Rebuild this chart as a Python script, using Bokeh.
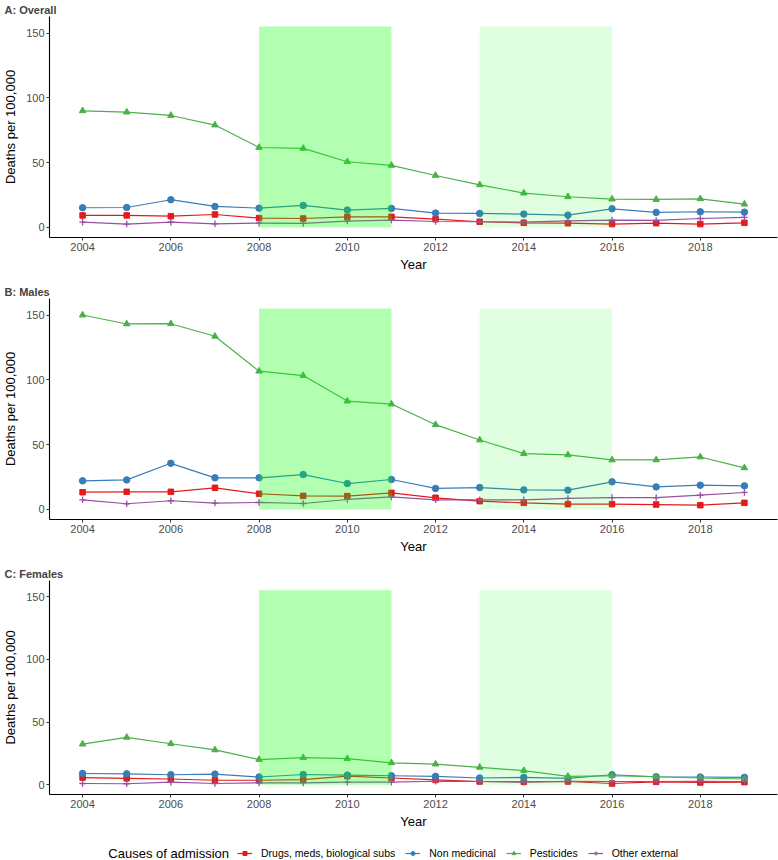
from bokeh.plotting import figure
from bokeh.models import Range1d, FixedTicker, Legend, LegendItem, ColumnDataSource, Label
from bokeh.layouts import column
from bokeh.embed import file_html
from bokeh.resources import INLINE

# ---------------- data ----------------
years = list(range(2004, 2020))
series_names = ["Drugs, meds, biological subs", "Non medicinal", "Pesticides", "Other external"]
series_colors = ["#E41A1C", "#377EB8", "#4DAF4A", "#984EA3"]
series_markers = ["square", "circle", "triangle", "cross"]

overall_drugs = [9.3, 9.3, 8.7, 10.0, 7.2, 6.9, 8.2, 8.2, 6.4, 4.4, 3.6, 3.3, 2.6, 3.3, 2.6, 3.6]
overall_nonmed = [15.2, 15.4, 21.4, 16.2, 14.9, 17.0, 13.4, 14.7, 11.1, 10.8, 10.3, 9.5, 14.4, 11.6, 12.1, 11.8]
overall_pest = [90.0, 89.0, 86.4, 79.0, 61.7, 61.0, 50.7, 47.9, 40.1, 32.9, 26.5, 23.7, 21.9, 21.6, 22.1, 18.0]
overall_other = [4.1, 2.6, 4.1, 2.8, 3.3, 3.1, 4.9, 5.7, 4.6, 4.4, 4.1, 5.1, 5.7, 5.4, 6.9, 7.7]

males_drugs = [13.3, 13.6, 13.6, 16.7, 12.1, 10.5, 10.3, 12.8, 9.0, 6.4, 5.1, 4.1, 4.1, 3.8, 3.3, 5.1]
males_nonmed = [22.1, 22.8, 35.6, 24.4, 24.4, 26.9, 20.0, 23.1, 16.2, 16.9, 15.1, 14.9, 21.3, 17.4, 18.7, 18.2]
males_pest = [150.0, 143.1, 143.3, 133.6, 106.7, 103.3, 83.6, 81.3, 65.4, 53.6, 43.1, 42.1, 38.2, 38.2, 40.5, 32.1]
males_other = [7.4, 4.4, 6.7, 4.9, 5.4, 4.6, 7.7, 9.7, 7.4, 7.4, 7.4, 8.5, 9.2, 9.2, 11.0, 13.1]

females_drugs = [5.7, 5.1, 4.6, 3.6, 3.6, 4.1, 6.9, 5.4, 3.9, 2.6, 2.3, 2.6, 1.0, 2.3, 1.8, 2.1]
females_nonmed = [9.0, 8.7, 8.0, 8.5, 6.2, 8.2, 7.7, 7.2, 6.7, 5.4, 5.9, 5.1, 8.0, 6.4, 6.2, 5.9]
females_pest = [32.4, 37.8, 32.7, 27.8, 20.1, 21.6, 20.8, 17.5, 16.5, 13.9, 11.3, 6.7, 7.2, 6.4, 5.4, 4.6]
females_other = [1.0, 0.8, 2.1, 1.0, 1.5, 1.5, 2.1, 2.1, 2.8, 2.6, 2.1, 2.8, 2.6, 2.6, 2.8, 2.6]

panel_titles = ["A: Overall", "B: Males", "C: Females"]
x_ticks = [2004, 2006, 2008, 2010, 2012, 2014, 2016, 2018]
y_ticks = [0, 50, 100, 150]
shade_start = [2008, 2013]
shade_end = [2011, 2016]
shade_bottom = [0, 0]
shade_top = [155, 155]
shade_alpha = [0.3, 0.12]
legend_title = "Causes of admission"
x_label = "Year"
y_label = "Deaths per 100,000"

FONT = "Liberation Sans"
marker_sizes = {"square": 5.5, "circle": 6.5, "triangle": 6.5, "cross": 6.5}


def add_series(p, src, c, m, scale=1.0):
    r1 = p.line("x", "y", source=src, line_color=c, line_width=1.2)
    r2 = p.scatter("x", "y", source=src, marker=m, size=marker_sizes[m] * scale,
                   fill_color=c, line_color=c, line_width=1.3 if m == "cross" else 1)
    return r1, r2


def make_panel(title, data, height, bottom):
    p = figure(width=778, height=height,
               x_range=Range1d(2003.25, 2019.75), y_range=Range1d(-7.75, 162.75),
               output_backend="svg", toolbar_location=None,
               min_border_left=47, min_border_right=1, min_border_top=15,
               min_border_bottom=bottom)
    p.title.text = title
    p.title.text_font = FONT
    p.title.text_font_size = "11px"
    p.title.text_font_style = "bold"
    p.title.align = "left"
    p.title.offset = -45
    p.title.standoff = 2
    for vals, c, m in zip(data, series_colors, series_markers):
        add_series(p, ColumnDataSource(dict(x=years, y=vals)), c, m)
    p.quad(left=shade_start, right=shade_end, bottom=shade_bottom, top=shade_top,
           fill_color="#00FF00", fill_alpha=shade_alpha, line_color=None)
    p.xgrid.visible = False
    p.ygrid.visible = False
    p.outline_line_color = None
    p.xaxis.ticker = FixedTicker(ticks=x_ticks)
    p.yaxis.ticker = FixedTicker(ticks=y_ticks)
    p.xaxis.axis_label = x_label
    p.yaxis.axis_label = y_label
    for ax in (p.xaxis[0], p.yaxis[0]):
        ax.axis_label_text_font = FONT
        ax.axis_label_text_font_size = "13px"
        ax.axis_label_text_font_style = "normal"
        ax.axis_label_text_color = "black"
        ax.major_label_text_font = FONT
        ax.major_label_text_font_size = "11px"
        ax.major_label_text_color = "#4D4D4D"
        ax.minor_tick_line_color = None
        ax.major_tick_in = 0
        ax.major_tick_out = 3
        ax.major_tick_line_color = "#333333"
        ax.axis_line_color = "black"
        ax.axis_line_width = 1.1
        ax.major_label_standoff = 2
    p.xaxis.axis_label_standoff = 3
    p.yaxis.axis_label_standoff = 5
    return p


pA = make_panel(panel_titles[0], [overall_drugs, overall_nonmed, overall_pest, overall_other], 282, 45)
pB = make_panel(panel_titles[1], [males_drugs, males_nonmed, males_pest, males_other], 282, 45)
pC = make_panel(panel_titles[2], [females_drugs, females_nonmed, females_pest, females_other], 267, 30)

# legend strip (its frame is aligned with the panels: 47..777 px)
lg = figure(width=778, height=29, x_range=Range1d(47, 777), y_range=Range1d(0, 29),
            output_backend="svg", toolbar_location=None,
            min_border_left=47, min_border_right=1, min_border_top=0, min_border_bottom=0,
            x_axis_location=None, y_axis_location=None)
lg.xgrid.visible = False
lg.ygrid.visible = False
lg.outline_line_color = None
items = []
# legend renderers use the real series (years lie outside this strip's visible range)
for name, vals, c, m in zip(series_names, [overall_drugs, overall_nonmed, overall_pest, overall_other],
                            series_colors, series_markers):
    r1, r2 = add_series(lg, ColumnDataSource(dict(x=years, y=vals)), c, m, scale=0.7)
    items.append(LegendItem(label=name, renderers=[r1, r2]))
legend = Legend(items=items, orientation="horizontal", location=(188, 1),
                padding=0, margin=0, spacing=10, glyph_width=15, glyph_height=10,
                label_standoff=9, label_text_font=FONT, label_text_font_size="10.5px",
                label_text_color="black", border_line_color=None, background_fill_alpha=0)
lg.add_layout(legend)
lg.add_layout(Label(x=106, y=7.5, text=legend_title, text_font=FONT, text_font_size="13px",
                    text_baseline="middle", text_color="black"))

layout = column(pA, pB, pC, lg)
open("out.html", "w").write(file_html(layout, INLINE))
